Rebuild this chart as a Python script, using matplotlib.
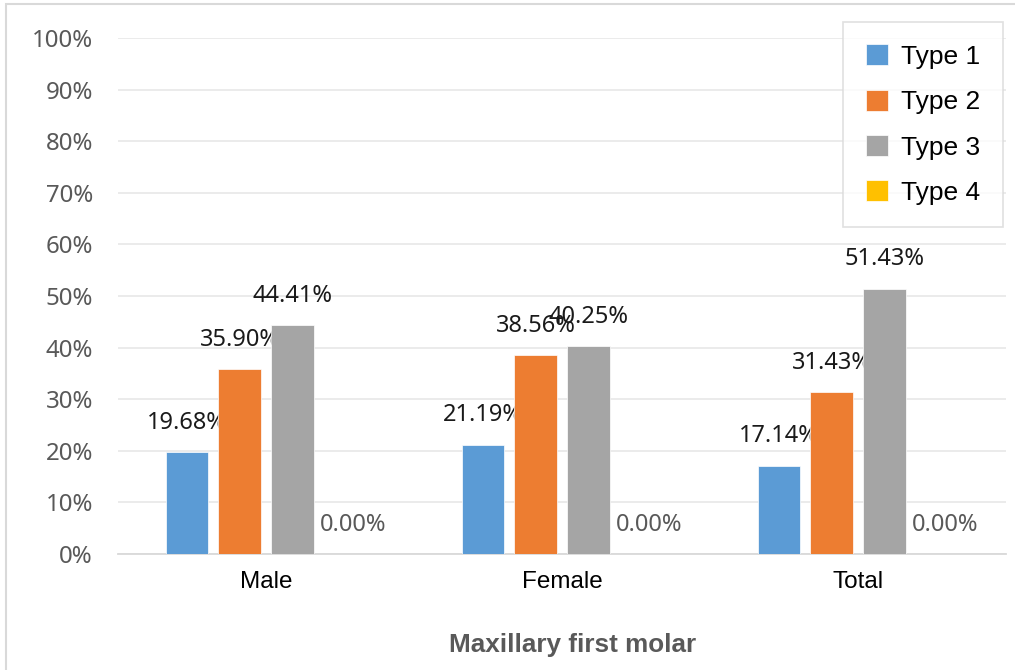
import numpy as np
import matplotlib
matplotlib.use("Agg")
import matplotlib.pyplot as plt
from matplotlib.patches import Rectangle

# valeurs (%) par groupe
groupes = ["Male", "Female", "Total"]
series = ["Type 1", "Type 2", "Type 3", "Type 4"]
type1 = [19.68, 21.19, 17.14]
type2 = [35.90, 38.56, 31.43]
type3 = [44.41, 40.25, 51.43]
type4 = [0.00, 0.00, 0.00]
couleurs = ["#5B9BD5", "#ED7D31", "#A5A5A5", "#FFC000"]
yticks = [0, 10, 20, 30, 40, 50, 60, 70, 80, 90, 100]

W, H = 1015, 670
fig = plt.figure(figsize=(W / 100, H / 100), dpi=100)

# cadre autour du graphique
fig.patches.append(Rectangle((6 / W, -0.1), 1.1, 1.1 - 4 / H, transform=fig.transFigure,
                             fill=False, edgecolor="#d9d9d9", lw=1.5))

ax = fig.add_axes([118 / W, (H - 554) / H, 888 / W, (554 - 38) / H])
ax.set_xlim(-0.5, 2.5)
ax.set_ylim(0, 100)

x = np.arange(len(groupes))
larg = 0.142
pas = 0.179
for k, (nom, vals) in enumerate(zip(series, [type1, type2, type3, type4])):
    pos = x + (k - 1.5) * pas
    ax.bar(pos, vals, larg, color=couleurs[k], label=nom, zorder=3,
           edgecolor="white", linewidth=0.5)
    for px, v in zip(pos, vals):
        c = "#595959" if v == 0 else "#1a1a1a"
        ax.annotate(f"{v:.2f}%", (px, v), xytext=(5.5 if v == 0 else 0, 21),
                    textcoords="offset points", ha="center", va="center",
                    fontsize=17, color=c, family="Noto Sans")

ax.set_yticks(yticks)
ax.set_yticklabels([f"{t}%" for t in yticks], fontsize=17.3, color="#595959",
                   family="Noto Sans")
ax.set_xticks(x)
ax.set_xticklabels(groupes, fontsize=17.5, family="Liberation Sans", color="#000000")
ax.tick_params(axis="both", length=0)
ax.tick_params(axis="y", pad=18)
ax.tick_params(axis="x", pad=12)
ax.grid(axis="y", color="#e9e9e9", lw=1.3, zorder=0)
for s in ["top", "right", "left"]:
    ax.spines[s].set_visible(False)
ax.spines["bottom"].set_color("#d9d9d9")
ax.spines["bottom"].set_linewidth(1.3)

leg = ax.legend(loc="upper right", bbox_to_anchor=(1003 / W, (H - 22) / H),
                bbox_transform=fig.transFigure, prop={"family": "Liberation Sans", "size": 19},
                frameon=True, fancybox=False, handlelength=0.85, handleheight=0.85,
                labelspacing=0.78, borderpad=0.85, handletextpad=0.5, borderaxespad=0)
leg.get_frame().set_edgecolor("#d9d9d9")
leg.get_frame().set_linewidth(1.2)

fig.text(573 / W, 1 - 645 / H, "Maxillary first molar", ha="center", va="center",
         fontsize=18.8, fontweight="bold", color="#595959", family="Liberation Sans")

fig.savefig("out.png", dpi=100)
